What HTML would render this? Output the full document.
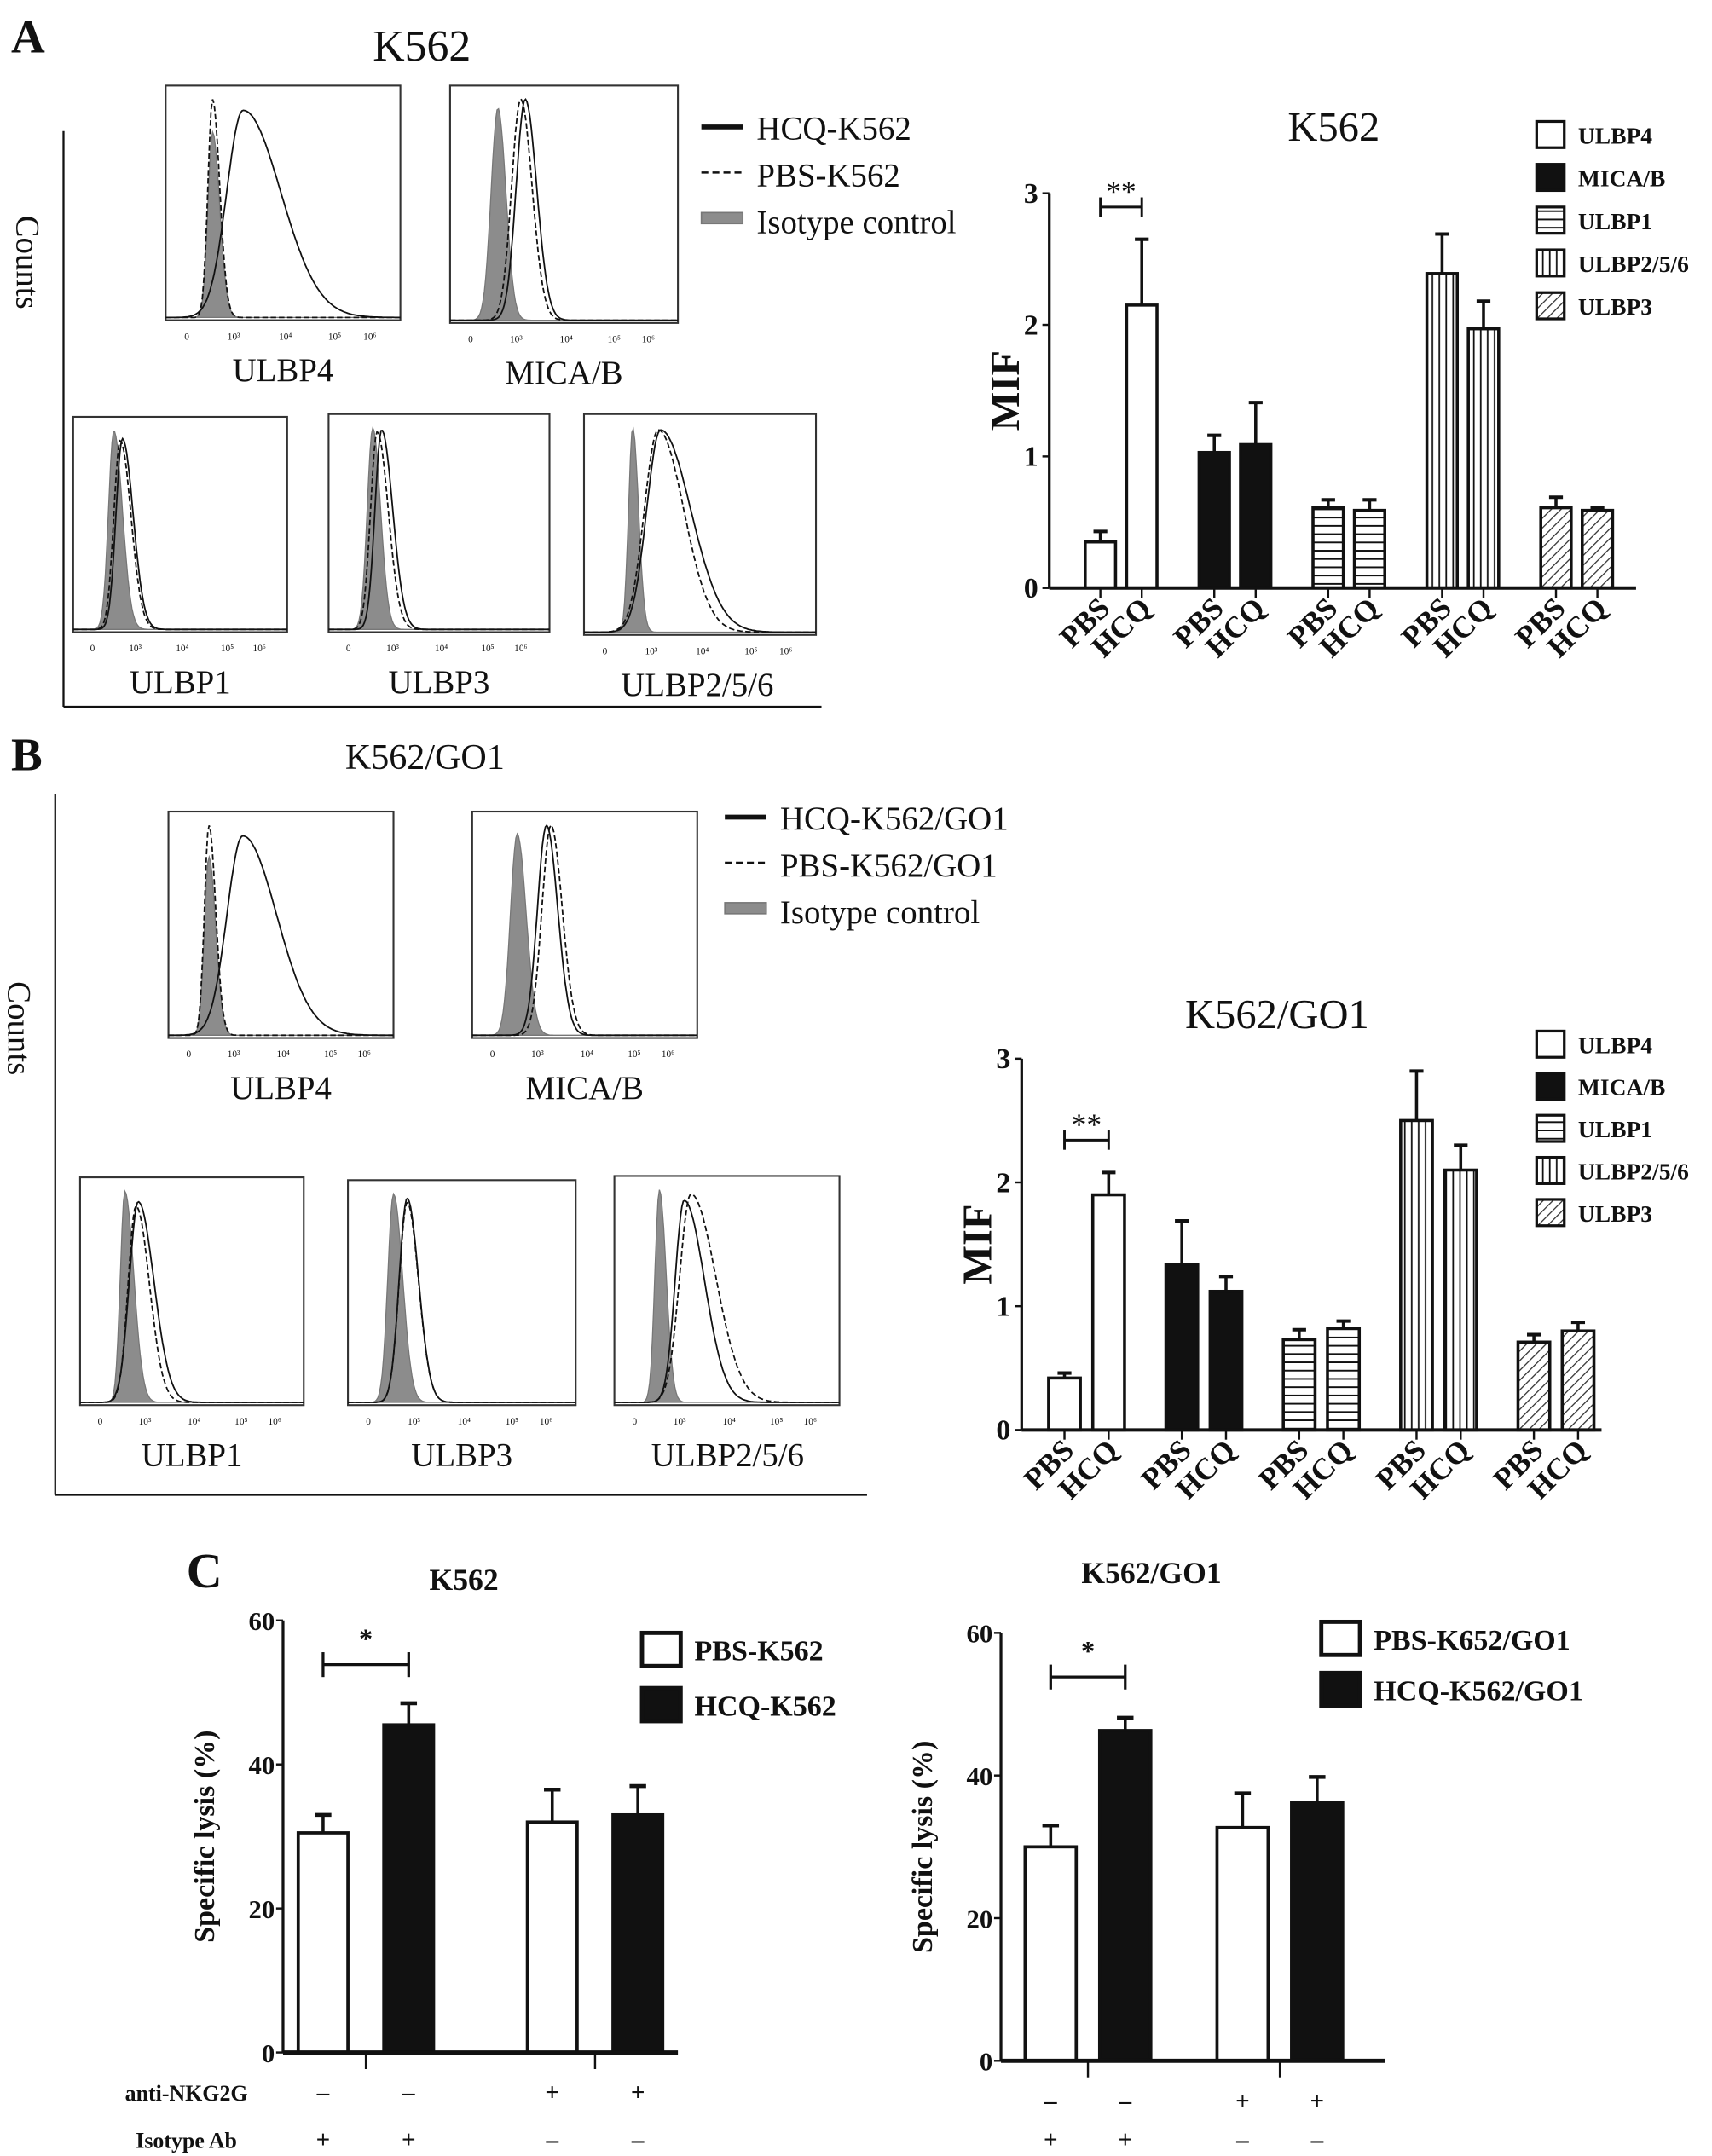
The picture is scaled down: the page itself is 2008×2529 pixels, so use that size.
<!DOCTYPE html>
<html><head><meta charset="utf-8">
<style>
html,body{margin:0;padding:0;background:#fff;}
svg{display:block;}
text{font-family:"Liberation Serif",serif;fill:#111;}
.b{font-weight:bold;}
</style></head>
<body>
<svg id="fig" xmlns="http://www.w3.org/2000/svg" width="2008" height="2529" viewBox="0 0 1240 1562" preserveAspectRatio="none">
<defs>
<pattern id="phz" width="6" height="6" patternUnits="userSpaceOnUse"><rect width="6" height="6" fill="#fff"/><line x1="0" y1="3" x2="6" y2="3" stroke="#111" stroke-width="1.2"/></pattern>
<pattern id="pvt" width="5" height="6" patternUnits="userSpaceOnUse"><rect width="5" height="6" fill="#fff"/><line x1="2.5" y1="0" x2="2.5" y2="6" stroke="#111" stroke-width="1.1"/></pattern>
<pattern id="pdg" width="5" height="5" patternUnits="userSpaceOnUse" patternTransform="rotate(45)"><rect width="5" height="5" fill="#fff"/><line x1="0" y1="0" x2="0" y2="5" stroke="#333" stroke-width="1.6"/></pattern>
</defs>
<g id="root"></g>
</svg>
<script>
// ---------- data ----------
const groups = ["ULBP4","MICA/B","ULBP1","ULBP2/5/6","ULBP3"];
const treat = ["PBS","HCQ"];
const mifA = [0.35,2.15,1.03,1.09,0.61,0.59,2.39,1.97,0.61,0.59];
const errA = [0.08,0.50,0.13,0.32,0.06,0.08,0.30,0.21,0.08,0.02];
const mifB = [0.42,1.90,1.34,1.12,0.73,0.82,2.50,2.10,0.71,0.80];
const errB = [0.04,0.18,0.35,0.12,0.08,0.06,0.40,0.20,0.06,0.07];
const mifTicks = [0,1,2,3];
const lysisCats = ["PBS","HCQ","PBS","HCQ"];
const lysisC1 = [30.5,45.5,32,33];
const errC1 = [2.5,3,4.5,4];
const lysisC2 = [30,46.3,32.7,36.2];
const errC2 = [3,1.8,4.8,3.6];
const lysisTicks = [0,20,40,60];
const antiNKG = ["–","–","+","+"];
const isoAb = ["+","+","–","–"];
const histTicks = ["0","10³","10⁴","10⁵","10⁶"];

const NS="http://www.w3.org/2000/svg";
const root=document.getElementById('root');
function mk(tag,attrs,parent){const e=document.createElementNS(NS,tag);for(const k in attrs)e.setAttribute(k,attrs[k]);(parent||root).appendChild(e);return e;}
function tx(x,y,s,size,extra,parent){const e=mk('text',Object.assign({x:x,y:y,'font-size':size},extra||{}),parent);e.textContent=s;return e;}

// ---------- panel letters & titles ----------
let t;
t=tx(8,38,"A",34,{class:'b'});
t=tx(270,44,"K562",32);
t=tx(8,558,"B",34,{class:'b'});
t=tx(250,557,"K562/GO1",26);
t=tx(135,1150,"C",36,{class:'b'});

// ---------- histograms ----------
function gauss(t,c,sl,sr){const s=t<c?sl:sr;return Math.exp(-0.5*((t-c)/s)**2);}
function hist(name,x,y,w,h,label,iso,hcq,pbs,lx){
  const g=mk('g',{});
  
  
  const r=mk('rect',{x:x,y:y,width:w,height:h,fill:'#fff',stroke:'#333','stroke-width':1.3},g);
  
  function path(p,filled){let d='';const base=y+h-2;
    for(let i=0;i<=160;i++){const tt=i/160;const v=gauss(tt,p[0],p[1],p[2])*p[3];
      d+=(i?'L':'M')+(x+tt*w).toFixed(1)+','+(base-v*(h-12)).toFixed(1);}
    if(filled)d+='L'+(x+w)+','+base+'L'+x+','+base+'Z';return d;}
  let e=mk('path',{d:path(iso,true),fill:'#8c8c8c',stroke:'#777','stroke-width':0.8},g);
  
  e=mk('path',{d:path(pbs,false),fill:'none',stroke:'#111','stroke-width':1.1,'stroke-dasharray':'4,2'},g);
  
  e=mk('path',{d:path(hcq,false),fill:'none',stroke:'#111','stroke-width':1.1},g);
  
  const fr=[0.09,0.29,0.51,0.72,0.87];
  histTicks.forEach((s,i)=>{const q=tx(x+fr[i]*w,y+h+14,s,7,{'text-anchor':'middle'},g);});
  const l=tx(lx!==undefined?lx:x+w/2,y+h+44,label,24,{'text-anchor':'middle'},g);
  
}
// panel A
hist('a-ulbp4',120,62,170,170,"ULBP4",[0.2,0.02,0.03,0.85],[0.33,0.07,0.16,0.95],[0.2,0.02,0.03,1]);
hist('a-mica',326,62,165,172,"MICA/B",[0.21,0.03,0.035,0.96],[0.33,0.04,0.05,1],[0.31,0.04,0.05,1]);
hist('a-ulbp1',53,302,155,156,"ULBP1",[0.19,0.025,0.04,1],[0.23,0.03,0.05,0.96],[0.22,0.03,0.05,0.95]);
hist('a-ulbp3',238,300,160,158,"ULBP3",[0.2,0.025,0.035,1],[0.24,0.03,0.05,0.99],[0.22,0.03,0.05,0.98]);
hist('a-ulbp256',423,300,168,160,"ULBP2/5/6",[0.21,0.018,0.025,1],[0.33,0.06,0.13,0.99],[0.32,0.06,0.11,0.99],505);
// panel B
hist('b-ulbp4',122,588,163,164,"ULBP4",[0.18,0.02,0.03,0.85],[0.33,0.07,0.15,0.95],[0.18,0.02,0.03,1]);
hist('b-mica',342,588,163,164,"MICA/B",[0.2,0.03,0.04,0.96],[0.33,0.04,0.05,1],[0.35,0.04,0.05,1]);
hist('b-ulbp1',58,853,162,165,"ULBP1",[0.2,0.02,0.04,1],[0.26,0.04,0.07,0.95],[0.25,0.035,0.06,0.93]);
hist('b-ulbp3',252,855,165,163,"ULBP3",[0.2,0.025,0.04,1],[0.26,0.035,0.05,0.98],[0.26,0.035,0.05,0.96]);
hist('b-ulbp256',445,852,163,166,"ULBP2/5/6",[0.2,0.02,0.03,1],[0.31,0.04,0.09,0.95],[0.34,0.05,0.11,0.98],527);

// counts axes
function countsAxis(name,x,y1,y2,x2,ty){
  const g=mk('g',{});
  mk('line',{x1:x,y1:y1,x2:x,y2:y2,stroke:'#111','stroke-width':1.4},g);
  mk('line',{x1:x,y1:y2,x2:x2,y2:y2,stroke:'#111','stroke-width':1.4},g);
  const c=tx(0,0,"Counts",24,{transform:`translate(${x-34},${ty}) rotate(90)`,'text-anchor':'middle'},g);
  
}
countsAxis('counts-axis-a',46,95,512,595,190);
countsAxis('counts-axis-b',40,575,1083,628,745);

// flow legends
function flowLegend(name,x,y,labels){
  const g=mk('g',{});
  mk('line',{x1:x,y1:y,x2:x+30,y2:y,stroke:'#111','stroke-width':3.5},g);
  mk('line',{x1:x,y1:y+33,x2:x+30,y2:y+33,stroke:'#111','stroke-width':1.5,'stroke-dasharray':'5,3'},g);
  mk('rect',{x:x,y:y+62,width:30,height:8,fill:'#8c8c8c',stroke:'#777'},g);
  labels.forEach((s,i)=>{const e=tx(x+40,y+9+i*34,s,24,{},g);});
}
flowLegend('flow-legend-a',508,92,["HCQ-K562","PBS-K562","Isotype control"]);
flowLegend('flow-legend-b',525,592,["HCQ-K562/GO1","PBS-K562/GO1","Isotype control"]);

// ---------- MIF bar charts ----------
const fills=['#fff','#111','url(#phz)','url(#pvt)','url(#pdg)'];
function mifChart(name,o,vals,errs){
  const g=mk('g',{});
  const Y=v=>o.y0-(v/3)*(o.y0-o.y3);
  const X=i=>o.x1+Math.floor(i/2)*o.gg+(i%2)*o.pg;
  const tl=tx(o.tx,o.ty,o.title,30,{'text-anchor':'middle'},g);
  vals.forEach((v,i)=>{
    const cx=X(i);const top=Y(v+errs[i]);
    const eb=mk('line',{x1:cx,y1:Y(v),x2:cx,y2:top,stroke:'#111','stroke-width':2.2},g);
    
    mk('line',{x1:cx-5,y1:top,x2:cx+5,y2:top,stroke:'#111','stroke-width':2.5},g);
    const b=mk('rect',{x:cx-o.bw/2,y:Y(v),width:o.bw,height:o.y0-Y(v),fill:fills[Math.floor(i/2)],stroke:'#111','stroke-width':2.2},g);
    
    
    mk('line',{x1:cx,y1:o.y0,x2:cx,y2:o.y0+7,stroke:'#111','stroke-width':1.5},g);
    const l=tx(0,0,treat[i%2],22,{class:'b','text-anchor':'end',transform:`translate(${cx+8},${o.y0+16}) rotate(-45)`},g);
    
  });
  const ya=mk('line',{x1:o.ax,y1:o.y0,x2:o.ax,y2:o.y3,stroke:'#111','stroke-width':2},g);
  
  const xa=mk('line',{x1:o.ax,y1:o.y0,x2:o.xe,y2:o.y0,stroke:'#111','stroke-width':2.5},g);
  
  mifTicks.forEach(v=>{mk('line',{x1:o.ax-5,y1:Y(v),x2:o.ax,y2:Y(v),stroke:'#111','stroke-width':1.5},g);
    const q=tx(o.ax-8,Y(v)+7,String(v),21,{class:'b','text-anchor':'end'},g);});
  const yl=tx(0,0,"MIF",30,{class:'b','text-anchor':'middle',transform:`translate(${o.ax-22},${(o.y0+o.y3)/2}) rotate(-90)`},g);
  
  const sy=o.sy,a=X(0),c=X(1);
  const sg=mk('g',{},g);
  mk('line',{x1:a,y1:sy,x2:c,y2:sy,stroke:'#111','stroke-width':1.8},sg);
  mk('line',{x1:a,y1:sy-7,x2:a,y2:sy+7,stroke:'#111','stroke-width':1.8},sg);
  mk('line',{x1:c,y1:sy-7,x2:c,y2:sy+7,stroke:'#111','stroke-width':1.8},sg);
  tx((a+c)/2,sy-4,"**",22,{'text-anchor':'middle'},sg);
  groups.forEach((s,i)=>{const yy=o.ly+i*o.ld;
    const lg=mk('g',{},g);
    mk('rect',{x:o.lx,y:yy,width:20,height:19,fill:fills[i],stroke:'#111','stroke-width':2},lg);
    tx(o.lx+30,yy+16,s,17,{class:'b'},lg);});
}
mifChart('mif-chart-a',{ax:760,xe:1185,y0:426,y3:140,x1:797,gg:82.5,pg:30,bw:22,tx:966,ty:102,title:"K562",sy:150,lx:1113,ly:88,ld:31},mifA,errA);
mifChart('mif-chart-b',{ax:740,xe:1160,y0:1036,y3:767,x1:771,gg:85,pg:32,bw:23,tx:925,ty:745,title:"K562/GO1",sy:826,lx:1113,ly:747,ld:30.5},mifB,errB);

// ---------- lysis charts ----------
function lysisChart(name,o,vals,errs){
  const g=mk('g',{});
  const Y=v=>o.y0-(v/60)*(o.y0-o.y60);
  const X=i=>o.x1+Math.floor(i/2)*o.gg+(i%2)*o.pg;
  const tl=tx(o.tx,o.ty,o.title,22,{class:'b','text-anchor':'middle'},g);
  vals.forEach((v,i)=>{const cx=X(i);const top=Y(v+errs[i]);
    mk('line',{x1:cx,y1:Y(v),x2:cx,y2:top,stroke:'#111','stroke-width':2.2},g);
    mk('line',{x1:cx-6,y1:top,x2:cx+6,y2:top,stroke:'#111','stroke-width':2.8},g);
    const b=mk('rect',{x:cx-o.bw/2,y:Y(v),width:o.bw,height:o.y0-Y(v),fill:i%2?'#111':'#fff',stroke:'#111','stroke-width':2.3},g);
    
    
    const a=tx(cx,o.r1,antiNKG[i],18,{class:'b','text-anchor':'middle'},g);
    const c=tx(cx,o.r2,isoAb[i],18,{class:'b','text-anchor':'middle'},g);
  });
  [0,1].forEach(k=>{const cx=(X(2*k)+X(2*k+1))/2;mk('line',{x1:cx,y1:o.y0,x2:cx,y2:o.y0+12,stroke:'#111','stroke-width':1.5},g);});
  const ya=mk('line',{x1:o.ax,y1:o.y0,x2:o.ax,y2:o.y60,stroke:'#111','stroke-width':2},g);
  const xa=mk('line',{x1:o.ax,y1:o.y0,x2:o.xe,y2:o.y0,stroke:'#111','stroke-width':3},g);
  lysisTicks.forEach(v=>{mk('line',{x1:o.ax-5,y1:Y(v),x2:o.ax,y2:Y(v),stroke:'#111','stroke-width':1.5},g);
    const q=tx(o.ax-6,Y(v)+7,String(v),19,{class:'b','text-anchor':'end'},g);});
  const yl=tx(0,0,"Specific lysis (%)",21,{class:'b','text-anchor':'middle',transform:`translate(${o.ax-50},${(o.y0+o.y60)/2}) rotate(-90)`,'font-family':'Liberation Sans, sans-serif'},g);
  
  const a=X(0),c=X(1),sy=o.sy;
  const sg=mk('g',{},g);
  mk('line',{x1:a,y1:sy,x2:c,y2:sy,stroke:'#111','stroke-width':2},sg);
  mk('line',{x1:a,y1:sy-9,x2:a,y2:sy+9,stroke:'#111','stroke-width':2},sg);
  mk('line',{x1:c,y1:sy-9,x2:c,y2:sy+9,stroke:'#111','stroke-width':2},sg);
  tx((a+c)/2,sy-12,"*",20,{class:'b','text-anchor':'middle'},sg);
  o.leg.forEach((s,i)=>{const lg=mk('g',{},g);
    mk('rect',{x:o.lx,y:o.ly+i*o.ld,width:28,height:24,fill:i?'#111':'#fff',stroke:'#111','stroke-width':3},lg);
    tx(o.lx+38,o.ly+i*o.ld+20,s,21,{class:'b'},lg);});
  if(o.rowLabels){const r1=tx(o.ax-70,o.r1,"anti-NKG2G",16,{class:'b','text-anchor':'middle'},g);
    const r2=tx(o.ax-70,o.r2,"Isotype Ab",16,{class:'b','text-anchor':'middle'},g);}
}
lysisChart('lysis-chart-k562',{ax:205,xe:491,y0:1487,y60:1174,x1:234,gg:166,pg:62,bw:36,tx:336,ty:1152,title:"K562",sy:1206,lx:465,ly:1183,ld:40,leg:["PBS-K562","HCQ-K562"],r1:1522,r2:1556,rowLabels:true},lysisC1,errC1);
lysisChart('lysis-chart-k562go1',{ax:725,xe:1003,y0:1493,y60:1183,x1:761,gg:139,pg:54,bw:37,tx:834,ty:1147,title:"K562/GO1",sy:1215,lx:957,ly:1175,ld:37,leg:["PBS-K652/GO1","HCQ-K562/GO1"],r1:1528,r2:1556,rowLabels:false},lysisC2,errC2);
</script>
</body></html>
